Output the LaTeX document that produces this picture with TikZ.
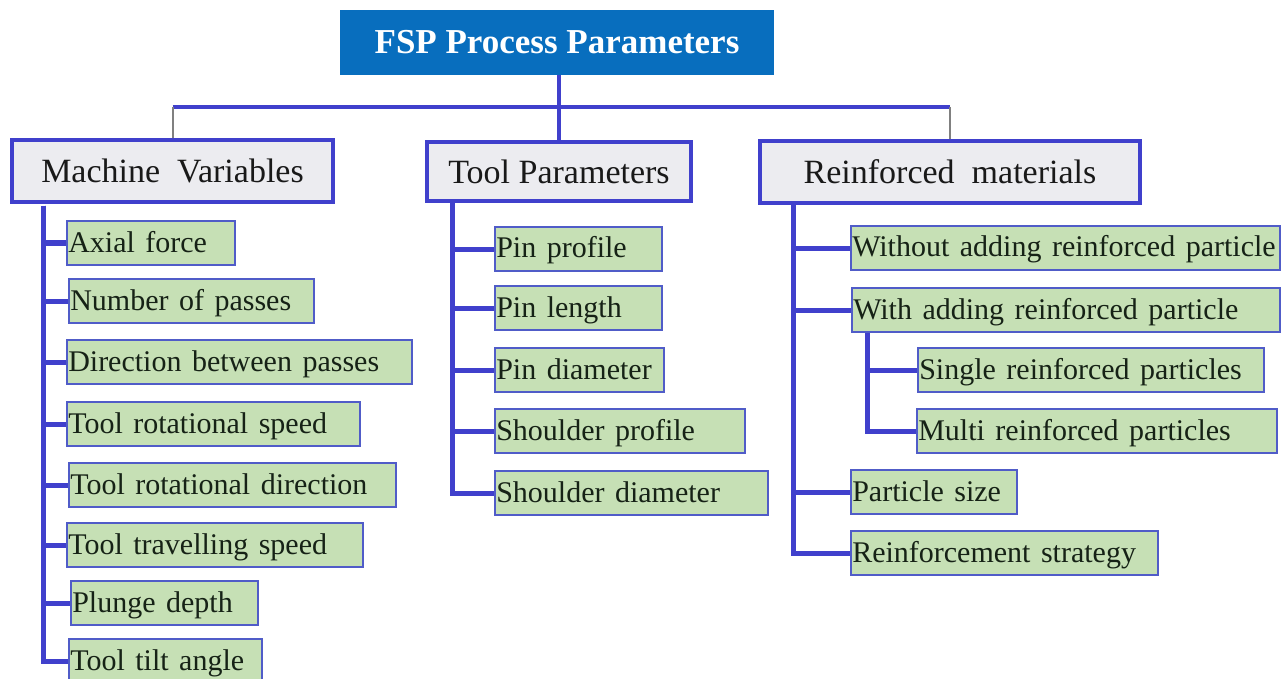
\documentclass[tikz,border=0pt]{standalone}
\usepackage{fontspec}
\setmainfont{Liberation Serif}
\definecolor{topblue}{RGB}{8,110,190}
\definecolor{connblue}{RGB}{64,64,204}
\definecolor{headfill}{RGB}{236,236,240}
\definecolor{leaffill}{RGB}{198,224,181}
\definecolor{leafline}{RGB}{80,92,200}
\definecolor{leaftext}{RGB}{22,34,22}
\definecolor{busgray}{RGB}{128,128,128}
\newcommand\lw[2]{\makebox[#1][l]{\spaceskip=0.35em\relax #2}}
\tikzset{
  topbox/.style={fill=topblue, draw=none, text=white, inner sep=0pt,
    font=\fontsize{35}{40}\selectfont\bfseries},
  headbox/.style={fill=headfill, draw=connblue, line width=4pt, inner sep=0pt,
    text=black!90, text height=28pt, text depth=4pt, font=\fontsize{34}{40}\selectfont},
  leafbox/.style={fill=leaffill, draw=leafline, line width=1.5pt, anchor=west,
    inner xsep=1.5pt, inner ysep=0pt, minimum height=44pt,
    text height=24pt, text depth=6pt, text=leaftext,
    font=\fontsize{30}{34}\selectfont},
  conn/.style={draw=connblue, line width=5pt},
  busline/.style={draw=connblue, line width=4pt},
  graydrop/.style={draw=busgray, line width=2pt},
}
\begin{document}
\begin{tikzpicture}[x=1pt,y=-1pt]
\useasboundingbox (0,0) rectangle (1285,679);
\fill[white] (0,0) rectangle (1285,679);

% top
\node[topbox, minimum width=434pt, minimum height=65pt] (top) at (557,42.5) {FSP Process Parameters};

% headings
\node[headbox, minimum width=321pt, minimum height=62pt] (mv) at (172.5,171) {Machine\ \ Variables};
\node[headbox, minimum width=264pt, minimum height=59pt] (tp) at (559,171.5) {Tool Parameters};
\node[headbox, minimum width=380pt, minimum height=62pt] (rm) at (950,172) {Reinforced\ \ materials};

\coordinate (bus) at (560,107);
\coordinate (mvs) at (43,206);
\coordinate (tps) at (452,203);
\coordinate (rms) at (793,205);

% leaves: machine variables
\node[leafbox] (a1) at (66,243) {\lw{165pt}{Axial force}};
\node[leafbox] (a2) at (68,301) {\lw{242pt}{Number of passes}};
\node[leafbox] (a3) at (66,362) {\lw{342pt}{Direction between passes}};
\node[leafbox] (a4) at (66,424) {\lw{290pt}{Tool rotational speed}};
\node[leafbox] (a5) at (68,485) {\lw{324pt}{Tool rotational direction}};
\node[leafbox] (a6) at (66,545) {\lw{293pt}{Tool travelling speed}};
\node[leafbox] (a7) at (70,603) {\lw{184pt}{Plunge depth}};
\node[leafbox] (a8) at (68,661) {\lw{190pt}{Tool tilt angle}};

% leaves: tool parameters
\node[leafbox] (b1) at (494,249) {\lw{164pt}{Pin profile}};
\node[leafbox] (b2) at (494,308) {\lw{164pt}{Pin length}};
\node[leafbox] (b3) at (494,370) {\lw{166pt}{Pin diameter}};
\node[leafbox] (b4) at (494,431) {\lw{247pt}{Shoulder profile}};
\node[leafbox] (b5) at (494,493) {\lw{270pt}{Shoulder diameter}};

% leaves: reinforced materials
\node[leafbox] (c1) at (850,248) {\lw{426pt}{Without adding reinforced particle}};
\node[leafbox] (c2) at (851,310) {\lw{425pt}{With adding reinforced particle}};
\node[leafbox] (c3) at (917,370) {\lw{343pt}{Single reinforced particles}};
\node[leafbox] (c4) at (916,431) {\lw{357pt}{Multi reinforced particles}};
\node[leafbox] (c5) at (850,492) {\lw{163pt}{Particle size}};
\node[leafbox] (c6) at (850,553) {\lw{304pt}{Reinforcement strategy}};

\coordinate (c2s) at (867,333);

% top connectors
\draw[conn, line width=4pt] (tp.north |- top.south) -- (tp.north);
\draw[busline] (mv.north |- bus) -- (rm.north |- bus);
\draw[graydrop] (mv.north |- bus) -- (mv.north);
\draw[graydrop] (rm.north |- bus) -- (rm.north);

% spines
\foreach \n in {a1,a2,a3,a4,a5,a6,a7,a8} \draw[conn] (mvs) |- (\n.west);
\foreach \n in {b1,b2,b3,b4,b5} \draw[conn] (tps) |- (\n.west);
\foreach \n in {c1,c2,c5,c6} \draw[conn] (rms) |- (\n.west);
\foreach \n in {c3,c4} \draw[conn] (c2s) |- (\n.west);
\end{tikzpicture}
\end{document}
